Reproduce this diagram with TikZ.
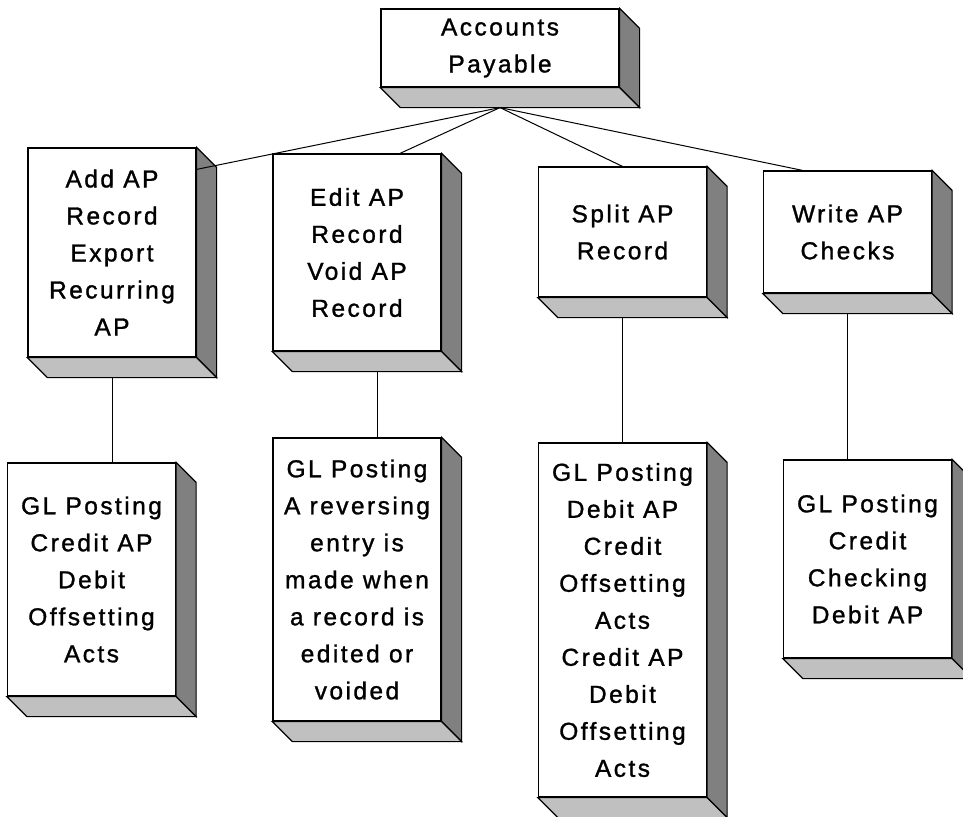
\documentclass[tikz,border=0pt]{standalone}
\usepackage{fontspec}
\setmainfont{Liberation Sans}[LetterSpace=10, FakeBold=1.2]
\usetikzlibrary{backgrounds}

\definecolor{sidegray}{HTML}{808080}
\definecolor{basegray}{HTML}{C0C0C0}

\begin{document}
\begin{tikzpicture}[x=1pt, y=-1pt,
    front/.style={draw, line width=1.2pt, fill=white, minimum width=168pt,
                  align=center, inner sep=0pt, font=\fontsize{24.5}{37}\selectfont},
    sideface/.style={draw, line width=1.2pt, fill=sidegray},
    baseface/.style={draw, line width=1.2pt, fill=basegray},
    link/.style={draw, line width=1pt}]

% General parameters
\def\dep{20}              % Depth of the 3D boxes
\def\wPic{963}            % Width of the picture
\def\hPic{816}            % Height of the picture

\useasboundingbox (0,0) rectangle (\wPic,\hPic);

% Top box
\node[front, minimum width=238pt, minimum height=78pt] (acct) at (500,48) {Accounts\\Payable};

% Second row
\node[front, minimum height=209pt] (add)   at (112,252.5) {Add AP\\Record\\Export\\Recurring\\AP};
\node[front, minimum height=197pt] (edit)  at (357,252.5) {Edit AP\\Record\\Void AP\\Record};
\node[front, minimum height=130pt] (split) at (622.5,232) {Split AP\\Record};
\node[front, minimum height=122pt] (write) at (847.5,232) {Write AP\\Checks};

% GL postings
\node[front, minimum height=233pt] (gladd)   at (91.5,579.5) {GL Posting\\Credit AP\\Debit\\Offsetting\\Acts};
\node[front, minimum height=283pt] (gledit)  at (357,579.5)  {GL Posting\\A reversing\\entry is\\made when\\a record is\\edited or\\voided};
\node[front, minimum height=354pt] (glsplit) at (622.5,620)  {GL Posting\\Debit AP\\Credit\\Offsetting\\Acts\\Credit AP\\Debit\\Offsetting\\Acts};
\node[front, minimum height=198pt] (glwrite) at (867.5,559)  {GL Posting\\Credit\\Checking\\Debit AP};

% Side and bottom faces of every box
\foreach \n in {acct,add,edit,split,write,gladd,gledit,glsplit,glwrite} {
    \path[sideface] (\n.north east) -- ++(\dep,\dep) -- ([shift={(\dep,\dep)}]\n.south east) -- (\n.south east) -- cycle;
    \path[baseface] (\n.south west) -- (\n.south east) -- ++(\dep,\dep) -- ([shift={(\dep,\dep)}]\n.south west) -- cycle;
}

% Connectors from the top box
\coordinate (apex) at ([shift={(0,\dep)}]acct.south);
\draw[link] (apex) -- ([shift={(0,22)}]add.north east);
\draw[link] (apex) -- ([xshift=43pt]edit.north);
\draw[link] (apex) -- (split.north);
\draw[link] (apex) -- ([xshift=-45pt]write.north);

% Connectors down to the GL postings (behind the boxes)
\begin{scope}[on background layer]
    \draw[link] (add.south) -- (add.south |- gladd.north);
    \draw[link] ([xshift=20pt]edit.south) -- ([xshift=20pt]edit.south |- gledit.north);
    \draw[link] (split.south) -- (split.south |- glsplit.north);
    \draw[link] (write.south) -- (write.south |- glwrite.north);
\end{scope}

\end{tikzpicture}
\end{document}
